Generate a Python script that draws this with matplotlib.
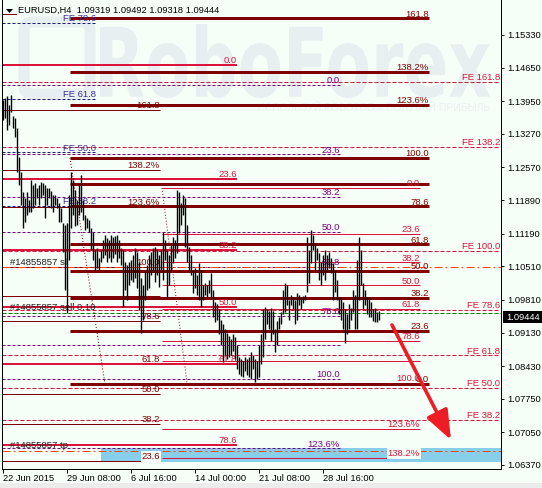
import numpy as np
import matplotlib
matplotlib.use("Agg")
import matplotlib.pyplot as plt
from matplotlib.patches import Rectangle, PathPatch, Polygon, FancyBboxPatch
from matplotlib.textpath import TextPath
from matplotlib.font_manager import FontProperties
from matplotlib.transforms import Affine2D

plt.rcParams['font.family'] = ['Liberation Sans', 'DejaVu Sans']
plt.rcParams['lines.scale_dashes'] = False

# ---------------- data ----------------
symbol_header = "EURUSD,H4  1.09319 1.09492 1.09318 1.09444"
last_price = 1.09444

bar_high = [1.1398, 1.1402, 1.1406, 1.1387, 1.1408, 1.1364, 1.1360, 1.1339, 1.1279, 1.1248,
            1.1206, 1.1193, 1.1206, 1.1189, 1.1231, 1.1220, 1.1225, 1.1214, 1.1220, 1.1227,
            1.1225, 1.1220, 1.1214, 1.1214, 1.1208, 1.1200, 1.1200, 1.1193, 1.1183, 1.1172,
            1.1141, 1.1137, 1.1141, 1.1200, 1.1248, 1.1231, 1.1210, 1.1189, 1.1220, 1.1241,
            1.1189, 1.1158, 1.1152, 1.1148, 1.1131, 1.1123, 1.1085, 1.1089, 1.1068, 1.1085,
            1.1106, 1.1116, 1.1110, 1.1106, 1.1116, 1.1112, 1.1114, 1.1116, 1.1106, 1.1089,
            1.1085, 1.1060, 1.1054, 1.1060, 1.1064, 1.1075, 1.1089, 1.1081, 1.1060, 1.1027,
            1.1012, 1.1039, 1.1054, 1.1075, 1.1081, 1.1089, 1.1091, 1.1085, 1.1075, 1.1085,
            1.1123, 1.1106, 1.1085, 1.1075, 1.1095, 1.1112, 1.1106, 1.1210, 1.1206, 1.1183,
            1.1200, 1.1193, 1.1137, 1.1091, 1.1075, 1.1043, 1.1048, 1.1033, 1.1058, 1.1043,
            1.1012, 1.1017, 1.1012, 1.1023, 1.1037, 1.1002, 1.0976, 1.0972, 1.0961, 1.0940,
            1.0930, 1.0920, 1.0913, 1.0905, 1.0899, 1.0909, 1.0903, 1.0888, 1.0863, 1.0857,
            1.0853, 1.0861, 1.0857, 1.0863, 1.0872, 1.0867, 1.0857, 1.0853, 1.0888, 1.0909,
            1.0961, 1.0967, 1.0961, 1.0957, 1.0965, 1.0957, 1.0920, 1.0936, 1.0945, 1.0955,
            1.1002, 1.1017, 1.1012, 1.0981, 1.0991, 1.0988, 1.0981, 1.0995, 1.0991, 1.0985,
            1.0989, 1.0991, 1.1112, 1.1085, 1.1127, 1.1116, 1.1099, 1.1089, 1.1079, 1.1060,
            1.1075, 1.1085, 1.1075, 1.1081, 1.1068, 1.1058, 1.1043, 1.1023, 1.0988, 1.0985,
            1.0976, 1.0961, 1.0951, 1.0972, 1.0965, 1.1002, 1.0991, 1.1064, 1.1112, 1.1085,
            1.1017, 1.1002, 1.0988, 1.0985, 1.0976, 1.0961, 1.0965, 1.0955, 1.0957]
bar_low = [1.1356, 1.1360, 1.1335, 1.1345, 1.1373, 1.1339, 1.1320, 1.1248, 1.1220, 1.1179,
           1.1131, 1.1143, 1.1158, 1.1164, 1.1164, 1.1172, 1.1179, 1.1193, 1.1179, 1.1193,
           1.1200, 1.1152, 1.1179, 1.1193, 1.1172, 1.1164, 1.1179, 1.1172, 1.1143, 1.1143,
           1.1081, 1.1002, 1.0954, 1.1064, 1.1131, 1.1158, 1.1135, 1.1137, 1.1158, 1.1164,
           1.1148, 1.1127, 1.1131, 1.1123, 1.1085, 1.1064, 1.1043, 1.1048, 1.1043, 1.1060,
           1.1068, 1.1075, 1.1060, 1.1068, 1.1060, 1.1068, 1.1077, 1.1060, 1.1068, 1.1054,
           1.0966, 1.1002, 1.0981, 1.1012, 1.1023, 1.1018, 1.1027, 1.1006, 1.0960, 1.0912,
           1.0939, 1.0981, 1.1002, 1.1006, 1.1033, 1.1043, 1.1018, 1.1033, 1.1008, 1.1043,
           1.1023, 1.1064, 1.0987, 1.1012, 1.1043, 1.1058, 1.1068, 1.1079, 1.1121, 1.1137,
           1.1158, 1.1091, 1.1060, 1.1043, 1.1033, 1.0995, 1.1006, 1.0991, 1.0981, 1.0966,
           1.0981, 1.0991, 1.0986, 1.0995, 1.0988, 1.0945, 1.0934, 1.0940, 1.0909, 1.0888,
           1.0851, 1.0867, 1.0857, 1.0861, 1.0867, 1.0874, 1.0857, 1.0836, 1.0826, 1.0822,
           1.0820, 1.0832, 1.0824, 1.0820, 1.0816, 1.0836, 1.0809, 1.0816, 1.0820, 1.0847,
           1.0863, 1.0899, 1.0930, 1.0920, 1.0895, 1.0909, 1.0872, 1.0888, 1.0920, 1.0930,
           1.0951, 1.0955, 1.0971, 1.0940, 1.0971, 1.0961, 1.0930, 1.0940, 1.0971, 1.0961,
           1.0974, 1.0981, 1.0998, 1.1017, 1.1058, 1.1085, 1.1043, 1.1064, 1.1023, 1.1012,
           1.1033, 1.1023, 1.1040, 1.1048, 1.1037, 1.0981, 1.0998, 1.0981, 1.0951, 1.0940,
           1.0920, 1.0892, 1.0909, 1.0920, 1.0940, 1.0955, 1.0920, 1.0920, 1.0981, 1.1012,
           1.0961, 1.0971, 1.0951, 1.0946, 1.0946, 1.0936, 1.0934, 1.0934, 1.0940]

date_tick_bars = [0, 32, 64, 96, 128, 160]
date_tick_labels = ["22 Jun 2015", "29 Jun 08:00", "6 Jul 16:00", "14 Jul 00:00",
                    "21 Jul 08:00", "28 Jul 16:00"]
price_ticks = [1.15330, 1.14650, 1.13950, 1.13270, 1.12570, 1.11890, 1.11190,
               1.10510, 1.09810, 1.09130, 1.08430, 1.07750, 1.07050, 1.06370]

# Fibonacci retracements: price at 0% and at 100%
fib_red_thick_0, fib_red_thick_100 = 1.08058, 1.12767
fib_red_thick_ratios = [0.0, 0.236, 0.382, 0.5, 0.618, 0.786, 0.886, 1.0, 1.236, 1.382, 1.618]
fib_red_thick_texts = ["0.0", "23.6", "38.2", "50.0", "61.8", "78.6", "", "100.0", "123.6%", "138.2%", "161.8"]

fib_crimson_thin_0, fib_crimson_thin_100 = 1.12142, 1.08078
fib_crimson_thin_ratios = [0.0, 0.236, 0.382, 0.5, 0.618, 0.786, 0.886, 1.0, 1.236, 1.382]
fib_crimson_thin_texts = ["0.0", "23.6", "38.2", "50.0", "61.8", "78.6", "", "100.0", "123.6%", "138.2%"]

fib_crimson_wide_0, fib_crimson_wide_100 = 1.14705, 1.04624
fib_crimson_wide_ratios = [0.0, 0.236, 0.382, 0.5, 0.618, 0.786]
fib_crimson_wide_texts = ["0.0", "23.6", "38.2", "50.0", "61.8", "78.6"]

fib_purple_0, fib_purple_100 = 1.14288, 1.08162
fib_purple_ratios = [0.0, 0.236, 0.382, 0.5, 0.618, 0.786, 0.886, 1.0, 1.236]
fib_purple_texts = ["0.0", "23.6", "38.2", "50.0", "61.8", "78.6", "", "100.0", "123.6%"]

fib_red_thin_0, fib_red_thin_100 = 1.05205, 1.10496
fib_red_thin_ratios = [0.236, 0.382, 0.5, 0.618, 0.786, 0.886, 1.0, 1.236, 1.382, 1.618]
fib_red_thin_texts = ["23.6", "38.2", "50.0", "61.8", "78.6", "", "100.0", "123.6%", "138.2%", "161.8"]

# Fibonacci expansions
fe_navy_0, fe_navy_100 = 1.08170, 1.17597
fe_navy_ratios = [0.382, 0.5, 0.618, 0.786]
fe_crimson_0, fe_crimson_100 = 1.05130, 1.10829
fe_crimson_ratios = [0.382, 0.5, 0.618, 0.786, 1.0, 1.382, 1.618]

# Order
order_ticket = "#14855857"
order_open = 1.09543
order_sl = 1.10489
order_tp = 1.06668

target_zone = (1.06432, 1.06724)
forecast_start = (194.5, 1.09287)   # (bar, price)
forecast_end = (224.0, 1.06891)

# ---------------- layout / style ----------------
W, H = 542, 488
PX = 0.72  # points per pixel
BG = '#F5FFF8'
WM = '#E7EFF0'
MAROON = '#800000'
CRIMSON = '#DC143C'
PURPLE = '#800080'
NAVY = '#1A1A80'
NAVY_TXT = '#3C2F91'
FS = 6.7
LFS = 6.8

fig = plt.figure(figsize=(W / 100, H / 100), dpi=100)
fig.patch.set_facecolor(BG)
pix = Affine2D().scale(1.0 / W, 1.0 / H) + fig.transFigure  # pixel coords, y up

# watermark
fp = FontProperties(family='DejaVu Sans', weight='bold')
tpath = TextPath((0, 0), "RoboForex", prop=fp, size=100)
bb = tpath.get_extents()
bx0, bx1, by0, by1 = 100, 490, 24, 98
tr = (Affine2D().translate(-bb.x0, -bb.y0)
      .scale((bx1 - bx0) / bb.width, (by1 - by0) / bb.height)
      .translate(bx0, H - by1)) + pix
fig.add_artist(PathPatch(tpath, transform=tr, facecolor=WM, edgecolor='none', zorder=-5))
fig.add_artist(FancyBboxPatch((24, H - 94), 66, 72, boxstyle='round,pad=0,rounding_size=8',
                              transform=pix, facecolor='none', edgecolor=WM,
                              linewidth=11 * PX, zorder=-5))
fig.text(490 / W, 1 - 108 / H, "ИСПОЛЬЗУЙ РОБОТОВ – ПОЛУЧАЙ ПРИБЫЛЬ", ha='right', va='center',
         fontsize=7.5, color='#EAF1F1', family=['Liberation Sans', 'DejaVu Sans'], zorder=-5)

ax = fig.add_axes([2 / W, (H - 469) / H, 499 / W, 469 / H])
ax.set_facecolor('none')
ax.set_xlim(-0.5, 249)
ax.set_ylim(1.06286, 1.16059)
for s in ['left', 'right', 'bottom']:
    ax.spines[s].set_linewidth(PX)
    ax.spines[s].set_color('black')
ax.spines['top'].set_visible(False)

ax.yaxis.tick_right()
ax.set_yticks(price_ticks)
ax.set_yticklabels([f"{p:.5f}" for p in price_ticks])
ax.tick_params(axis='y', length=3 * PX, width=PX, pad=3 * PX, labelsize=FS, colors='black')
ax.set_xticks(date_tick_bars)
ax.set_xticklabels(date_tick_labels)
ax.tick_params(axis='x', length=4 * PX, width=PX, pad=0.5, labelsize=FS, colors='black')
for lab in ax.get_xticklabels():
    lab.set_ha('left')


def label(x, p, t, color, box=False):
    kw = {}
    if box:
        kw['bbox'] = dict(facecolor=BG, edgecolor='none', pad=0.6)
    ax.annotate(t, (x, p), xytext=(0, 1.3), textcoords='offset points', ha='right',
                va='baseline', fontsize=LFS, color=color, annotation_clip=True, zorder=3, **kw)


def fib(p0, p100, ratios, texts, x0, x1, color, lw, ls, tcolor, boxed=()):
    for r, t in zip(ratios, texts):
        p = p0 + r * (p100 - p0)
        ax.hlines(p, x0, x1, colors=color, linewidth=lw * PX, linestyles=[ls], zorder=2)
        if t:
            label(x1, p, t, tcolor, box=(t in boxed))


solid = 'solid'
dash_fe = (0, (4 * PX, 2 * PX))
dash_p = (0, (3 * PX, 2 * PX))

# target zone
ax.add_patch(Rectangle((49, target_zone[0]), 249 - 49, target_zone[1] - target_zone[0],
                       facecolor='#87CEEB', edgecolor='none', zorder=1))

fib(fe_crimson_0, fe_crimson_100, fe_crimson_ratios,
    [f"FE {r * 100:.1f}" for r in fe_crimson_ratios], -0.5, 248.6, CRIMSON, 1, dash_fe, CRIMSON)
fib(fe_navy_0, fe_navy_100, fe_navy_ratios,
    [f"FE {r * 100:.1f}" for r in fe_navy_ratios], -0.5, 46.5, NAVY, 1, dash_p, NAVY_TXT)
fib(fib_purple_0, fib_purple_100, fib_purple_ratios, fib_purple_texts,
    -0.5, 168.5, PURPLE, 1, dash_p, PURPLE)
fib(fib_red_thin_0, fib_red_thin_100, fib_red_thin_ratios, fib_red_thin_texts,
    -0.5, 78.5, MAROON, 1, solid, MAROON, boxed=("23.6",))
fib(fib_crimson_wide_0, fib_crimson_wide_100, fib_crimson_wide_ratios, fib_crimson_wide_texts,
    -0.5, 117, CRIMSON, 2, solid, CRIMSON)
fib(fib_crimson_thin_0, fib_crimson_thin_100, fib_crimson_thin_ratios, fib_crimson_thin_texts,
    79.5, 208.5, CRIMSON, 1, solid, CRIMSON, boxed=("138.2%",))
fib(fib_red_thick_0, fib_red_thick_100, fib_red_thick_ratios, fib_red_thick_texts,
    33.5, 213, MAROON, 3, solid, MAROON)

# fib trend lines (dotted)
ax.plot([33.5, 51], [fib_red_thick_100, fib_red_thick_0], color=MAROON, lw=PX,
        dashes=(1 * PX, 2 * PX), zorder=2)
ax.plot([79.5, 92], [fib_crimson_thin_0, fib_crimson_thin_100], color='#A01020', lw=PX,
        dashes=(1 * PX, 2 * PX), zorder=2)

# order lines
ax.axhline(order_sl, color='#FF4500', lw=PX, dashes=(8 * PX, 3 * PX, 2 * PX, 3 * PX), zorder=2)
ax.axhline(order_tp, color='#FF4500', lw=PX, dashes=(8 * PX, 3 * PX, 2 * PX, 3 * PX), zorder=2)
ax.axhline(order_open, color='#008000', lw=PX, dashes=(4 * PX, 2 * PX), zorder=2)
for p, t in [(order_sl, f"{order_ticket} sl"), (order_open, f"{order_ticket} sell 0.10"),
             (order_tp, f"{order_ticket} tp")]:
    ax.annotate(t, (3.5, p), xytext=(0, 1.6), textcoords='offset points', ha='left',
                va='baseline', fontsize=LFS, color='#202020', zorder=3)

# price bars
xb = np.arange(len(bar_high))
ax.vlines(xb, bar_low, bar_high, colors='black', linewidth=1.0, zorder=4)

# forecast arrow
ax.annotate('', xy=forecast_end, xytext=forecast_start,
            arrowprops=dict(arrowstyle='-|>,head_length=1.8,head_width=0.7',
                            color='#EE1C25', lw=2.6, shrinkA=0, shrinkB=0,
                            mutation_scale=10), zorder=5)

# header
fig.text(18 / W, 1 - 10 / H, symbol_header, ha='left', va='center', fontsize=FS, color='black')
fig.add_artist(Polygon([[6, H - 9], [13, H - 9], [9.5, H - 13]], closed=True,
                       transform=pix, facecolor='black', edgecolor='none'))
fig.add_artist(Rectangle((3, H - 15), 14, 1, transform=pix, facecolor=MAROON, edgecolor='none'))

# current price box
yp = H - (1.16059 - last_price) / 0.00020837
fig.add_artist(Rectangle((503, yp - 6), 39, 12, transform=pix, facecolor='black', edgecolor='none'))
fig.text(506.5 / W, yp / H, f"{last_price:.5f}", ha='left', va='center', fontsize=FS, color='white')

# bottom window strip
fig.add_artist(Rectangle((0, 0), W, 5, transform=pix, facecolor='#ECECEC', edgecolor='none'))

fig.savefig('out.png', dpi=100, facecolor=BG)
